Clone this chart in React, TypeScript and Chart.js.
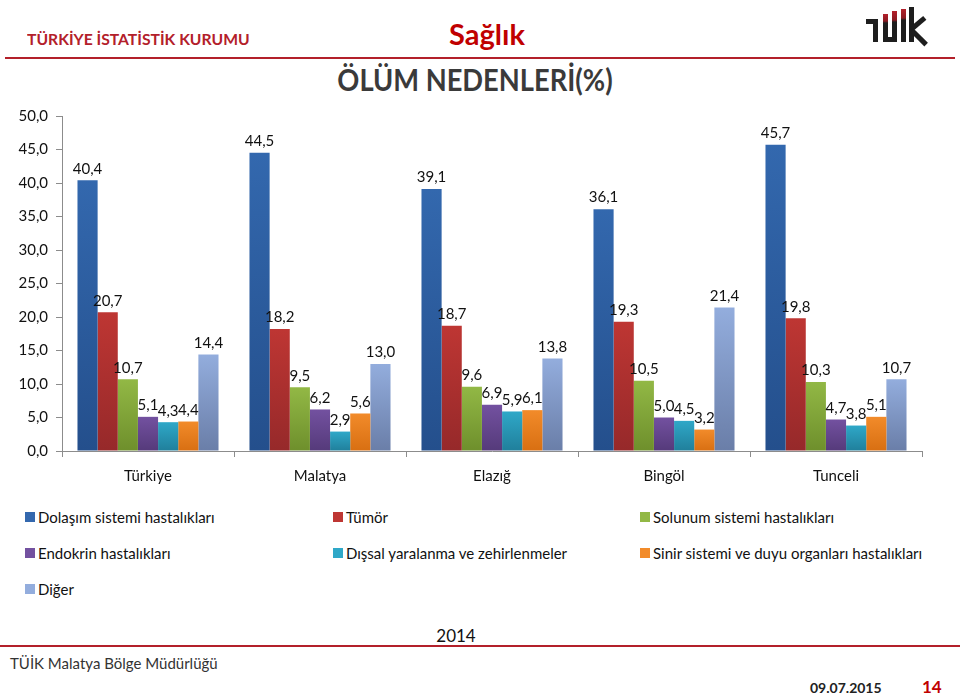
import React, { useEffect, useRef } from "react";
import { Chart, registerables } from "chart.js";

Chart.register(...registerables);

const categories = ["Türkiye", "Malatya", "Elazığ", "Bingöl", "Tunceli"];
const seriesNames = [
  "Dolaşım sistemi hastalıkları",
  "Tümör",
  "Solunum sistemi hastalıkları",
  "Endokrin hastalıkları",
  "Dışsal yaralanma ve zehirlenmeler",
  "Sinir sistemi ve duyu organları hastalıkları",
  "Diğer",
];
const dolasim = [40.4, 44.5, 39.1, 36.1, 45.7];
const tumor = [20.7, 18.2, 18.7, 19.3, 19.8];
const solunum = [10.7, 9.5, 9.6, 10.5, 10.3];
const endokrin = [5.1, 6.2, 6.9, 5.0, 4.7];
const dissal = [4.3, 2.9, 5.9, 4.5, 3.8];
const sinir = [4.4, 5.6, 6.1, 3.2, 5.1];
const diger = [14.4, 13.0, 13.8, 21.4, 10.7];
const seriesValues = [dolasim, tumor, solunum, endokrin, dissal, sinir, diger];

const topColors = ["#3368AE", "#BE3633", "#92B845", "#7351A0", "#2FA8C8", "#F28B2A", "#93ADDD"];
const bottomColors = ["#244F8C", "#96292A", "#6E8F2C", "#553A7A", "#207F9B", "#D86F12", "#6A7EA8"];
const legendColors = ["#3468AE", "#BE3633", "#92B845", "#7351A0", "#2FA8C8", "#F28B2A", "#93ADDD"];

const FONT = "Lato, 'Open Sans', sans-serif";

const fmt = (v: number) => v.toFixed(1).replace(".", ",");

const labelPlugin = {
  id: "barLabels",
  afterDatasetsDraw(chart: any) {
    const ctx = chart.ctx;
    ctx.save();
    ctx.font = `15px ${FONT}`;
    ctx.fillStyle = "#111";
    ctx.textAlign = "center";
    ctx.textBaseline = "bottom";
    chart.data.datasets.forEach((ds: any, i: number) => {
      const meta = chart.getDatasetMeta(i);
      meta.data.forEach((el: any, j: number) => {
        ctx.fillText(fmt(ds.data[j]), el.x, el.y - 4);
      });
    });
    ctx.restore();
  },
};

const redTop = (h: number) => `linear-gradient(to bottom, #B3202A 0px, #8a1a22 ${h}px, #1e1e1e ${h + 2}px, #1e1e1e 100%)`;

function Logo() {
  const blk = "#1e1e1e";
  const r = (l: number, t: number, w: number, h: number, bg: string, extra: any = {}) => (
    <div style={{ position: "absolute", left: l, top: t, width: w, height: h, background: bg, ...extra }} />
  );
  return (
    <>
      {r(866, 19, 12, 5, blk)}
      {r(873, 19, 5, 23, blk)}
      {r(883, 14, 5, 28, redTop(7))}
      {r(892, 11, 5, 31, redTop(9))}
      {r(883, 37, 14, 5, blk)}
      {r(901, 9, 5, 33, redTop(9))}
      {r(909, 7, 5, 35, blk)}
      {r(911, 27, 18, 5, blk, { transform: "rotate(-40deg)", transformOrigin: "0 50%" })}
      {r(912, 28, 20, 5, blk, { transform: "rotate(45deg)", transformOrigin: "0 50%" })}
    </>
  );
}

export default function App() {
  const ref = useRef<HTMLCanvasElement>(null);
  useEffect(() => {
    if (!ref.current) return;
    const chart = new Chart(ref.current, {
      type: "bar",
      data: {
        labels: categories,
        datasets: seriesValues.map((vals, i) => ({
          label: seriesNames[i],
          data: vals,
          backgroundColor: (c: any) => {
            const ch = c.chart;
            const area = ch.chartArea;
            if (!area || c.parsed == null || !ch.scales.y) return topColors[i];
            const top = ch.scales.y.getPixelForValue(c.parsed.y);
            const bottom = area.bottom;
            if (!isFinite(top) || bottom - top < 1) return topColors[i];
            const g = ch.ctx.createLinearGradient(0, top, 0, bottom);
            g.addColorStop(0, topColors[i]);
            g.addColorStop(1, bottomColors[i]);
            return g;
          },
          borderWidth: 0,
          barPercentage: 1,
          categoryPercentage: 0.82,
        })),
      },
      options: {
        animation: false,
        responsive: false,
        maintainAspectRatio: false,
        layout: { padding: { left: 0, right: 38, top: 116, bottom: 0 } },
        plugins: { legend: { display: false }, tooltip: { enabled: false } },
        scales: {
          x: {
            grid: { display: true, drawOnChartArea: false, offset: true, tickLength: 6, color: "#8c8c8c" },
            border: { color: "#8c8c8c" },
            ticks: { color: "#111", font: { family: FONT, size: 15 }, padding: 10 },
            afterFit: (s: any) => { s.height = 49; },
          },
          y: {
            min: 0,
            max: 50,
            grid: { display: true, drawOnChartArea: false, tickLength: 6, color: "#8c8c8c" },
            border: { color: "#8c8c8c" },
            ticks: {
              stepSize: 5,
              color: "#111",
              font: { family: FONT, size: 15 },
              padding: 8,
              callback: (v: any) => fmt(Number(v)),
            },
            afterFit: (s: any) => { s.width = 62; },
          },
        },
      },
      plugins: [labelPlugin],
    });
    return () => chart.destroy();
  }, []);

  const legendPos = [
    [25, 517], [333, 517], [640, 517],
    [25, 553], [333, 553], [640, 553],
    [25, 589],
  ];

  return (
    <div style={{ position: "absolute", left: 0, top: 0, width: 960, height: 696, background: "#fff", overflow: "hidden", fontFamily: FONT }}>
      <div style={{ position: "absolute", left: 27, top: 29, fontSize: 16, fontWeight: 700, color: "#B3202A", whiteSpace: "nowrap", transform: "scaleX(0.98)", transformOrigin: "0 0" }}>
        TÜRKİYE İSTATİSTİK KURUMU
      </div>
      <div style={{ position: "absolute", left: 387, width: 200, top: 16, textAlign: "center", fontSize: 29, fontWeight: 700, color: "#C00000" }}>
        Sağlık
      </div>
      <Logo />
      <div style={{ position: "absolute", left: 5, top: 57, width: 950, height: 2, background: "#B3202A" }} />
      <div style={{ position: "absolute", left: 275, width: 400, top: 60, textAlign: "center", fontSize: 31, fontWeight: 700, color: "#3A3A3A", whiteSpace: "nowrap", transform: "scaleX(0.88)", transformOrigin: "50% 0" }}>
        ÖLÜM NEDENLERİ(%)
      </div>
      <canvas ref={ref} width={960} height={500} style={{ position: "absolute", left: 0, top: 0, width: 960, height: 500 }} />
      {seriesNames.map((n, i) => (
        <div key={n} style={{ position: "absolute", left: legendPos[i][0], top: legendPos[i][1] - 10, height: 20, display: "flex", alignItems: "center", fontSize: 15, color: "#111", whiteSpace: "nowrap" }}>
          <span style={{ display: "inline-block", width: 10, height: 10, background: legendColors[i], marginRight: 3 }} />
          {n}
        </div>
      ))}
      <div style={{ position: "absolute", left: 406, width: 100, top: 625, textAlign: "center", fontSize: 17, color: "#111" }}>2014</div>
      <div style={{ position: "absolute", left: 0, top: 645, width: 960, height: 2, background: "#B3202A" }} />
      <div style={{ position: "absolute", left: 10, top: 654, fontSize: 15, color: "#333", whiteSpace: "nowrap" }}>TÜİK Malatya Bölge Müdürlüğü</div>
      <div style={{ position: "absolute", left: 810, top: 679, fontSize: 14, fontWeight: 700, color: "#222" }}>09.07.2015</div>
      <div style={{ position: "absolute", left: 922, top: 676, fontSize: 17, fontWeight: 700, color: "#C00000" }}>14</div>
    </div>
  );
}
